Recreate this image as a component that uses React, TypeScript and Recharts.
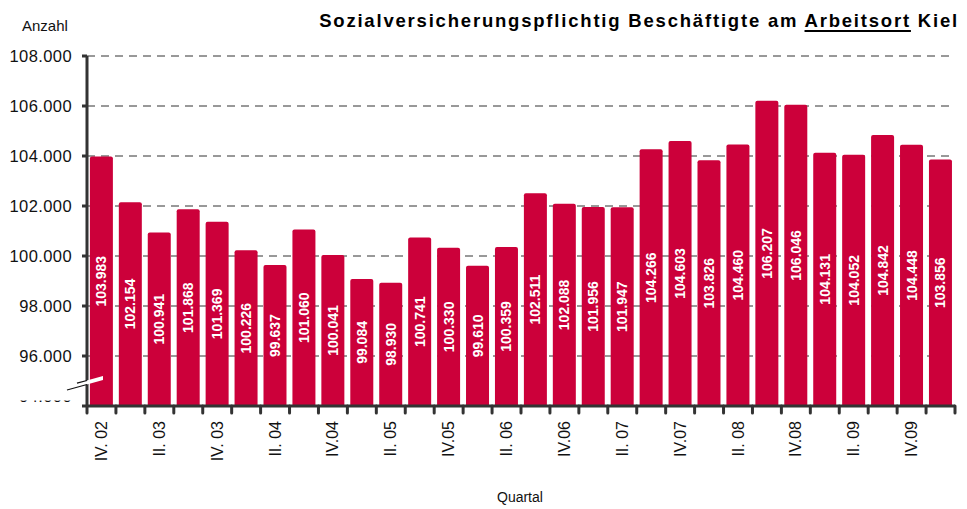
import { Bar, BarChart, CartesianGrid, LabelList, XAxis, YAxis } from "recharts";

const quarters = [
  "IV. 02", "I. 03", "II. 03", "III. 03", "IV. 03", "I. 04", "II. 04", "III. 04", "IV.04", "I. 05",
  "II. 05", "III. 05", "IV.05", "I. 06", "II. 06", "III. 06", "IV.06", "I. 07", "II. 07", "III. 07",
  "IV.07", "I. 08", "II. 08", "III. 08", "IV.08", "I. 09", "II. 09", "III. 09", "IV.09", "I. 10",
];

const employees = [
  103983, 102154, 100941, 101868, 101369, 100226, 99637, 101060, 100041, 99084,
  98930, 100741, 100330, 99610, 100359, 102511, 102088, 101956, 101947, 104266,
  104603, 103826, 104460, 106207, 106046, 104131, 104052, 104842, 104448, 103856,
];

const yTicks = [94000, 96000, 98000, 100000, 102000, 104000, 106000, 108000];

const data = quarters.map((quarter, i) => ({ quarter, employees: employees[i] }));

const FONT = '"Liberation Sans", Arial, sans-serif';
const INK = "#333";
const BAR = "#CC003A";

// 103983 -> "103.983"
const fmt = (v: number) => String(Math.round(v)).replace(/\B(?=(\d{3})+(?!\d))/g, ".");

function QuarterTick(props: any) {
  const { x, y, payload, index } = props;
  const half = payload?.offset || 868 / quarters.length / 2;
  const last = index === quarters.length - 1;
  return (
    <g>
      <line x1={x - half} x2={x - half} y1={y} y2={y + 7} stroke={INK} strokeWidth={3} strokeLinecap="round" />
      {last && (
        <line x1={x + half} x2={x + half} y1={y} y2={y + 7} stroke={INK} strokeWidth={3} strokeLinecap="round" />
      )}
      {index % 2 === 0 && (
        <text
          transform={`translate(${x},${y + 15}) rotate(-90)`}
          textAnchor="end"
          dominantBaseline="central"
          fontSize={16}
          fontFamily={FONT}
          fill="#111"
        >
          {payload.value}
        </text>
      )}
    </g>
  );
}

function CountTick(props: any) {
  const { x, y, payload } = props;
  if (payload.value === yTicks[0]) {
    // axis break at the bottom, label mostly hidden behind it
    const ax = x + 15;
    return (
      <g>
        <text x={x} y={y - 4} textAnchor="end" fontSize={16.5} letterSpacing={0.4} fontFamily={FONT} fill="#111">
          {fmt(payload.value)}
        </text>
        <rect x={0} y={y - 24} width={ax - 3} height={18.5} fill="#fff" />
        <polygon
          points={`${ax - 20},${y - 16} ${ax + 16},${y - 26} ${ax + 16},${y - 30} ${ax - 20},${y - 20}`}
          fill="#fff"
        />
        <line x1={ax - 20} y1={y - 16} x2={ax} y2={y - 21.5} stroke="#111" strokeWidth={1.2} />
        <line x1={ax - 10} y1={y - 22.8} x2={ax} y2={y - 25.5} stroke="#111" strokeWidth={1.2} />
      </g>
    );
  }
  return (
    <text
      x={x}
      y={y}
      textAnchor="end"
      dominantBaseline="central"
      fontSize={16.5}
      letterSpacing={0.4}
      fontFamily={FONT}
      fill="#111"
    >
      {fmt(payload.value)}
    </text>
  );
}

function ValueLabel(props: any) {
  const { x, y, width, height, value } = props;
  const cx = x + width / 2;
  const cy = y + height / 2;
  return (
    <text
      transform={`translate(${cx},${cy}) rotate(-90)`}
      textAnchor="middle"
      dominantBaseline="central"
      fill="#fff"
      fontWeight="bold"
      fontSize={14}
      fontFamily={FONT}
    >
      {fmt(value)}
    </text>
  );
}

export default function App() {
  return (
    <div style={{ position: "absolute", left: 0, top: 0, width: 967, height: 509, background: "#fff", fontFamily: FONT }}>
      <div style={{ position: "absolute", left: 22, top: 17, fontSize: 15, color: "#111" }}>Anzahl</div>
      <div
        style={{
          position: "absolute",
          right: 8,
          top: 10,
          fontSize: 18.5,
          letterSpacing: 1.8,
          fontWeight: "bold",
          color: "#000",
          whiteSpace: "nowrap",
        }}
      >
        Sozialversicherungspflichtig Beschäftigte am{" "}
        <span style={{ textDecoration: "underline", textDecorationThickness: 2, textUnderlineOffset: 3 }}>Arbeitsort</span> Kiel
      </div>
      <div style={{ position: "absolute", left: 497, top: 489, fontSize: 14, color: "#111" }}>Quartal</div>
      <div style={{ position: "absolute", left: 0, top: 0 }}>
        <BarChart width={967} height={509} data={data} margin={{ top: 56, right: 12, bottom: 0, left: 0 }}>
          <CartesianGrid vertical={false} stroke={INK} strokeDasharray="8 6" />
          <Bar
            dataKey="employees"
            fill={BAR}
            radius={[2, 2, 0, 0]}
            barCategoryGap="9%"
            isAnimationActive={false}
          >
            <LabelList dataKey="employees" content={<ValueLabel />} />
          </Bar>
          <XAxis
            dataKey="quarter"
            height={103}
            interval={0}
            tickLine={false}
            tickSize={0}
            tickMargin={0}
            axisLine={{ stroke: INK, strokeWidth: 3 }}
            tick={<QuarterTick />}
          />
          <YAxis
            width={87}
            domain={[94000, 108000]}
            ticks={yTicks}
            interval={0}
            tickSize={5}
            tickMargin={10}
            tickLine={{ stroke: INK, strokeWidth: 3 }}
            axisLine={{ stroke: INK, strokeWidth: 3 }}
            tick={<CountTick />}
          />
        </BarChart>
      </div>
    </div>
  );
}
